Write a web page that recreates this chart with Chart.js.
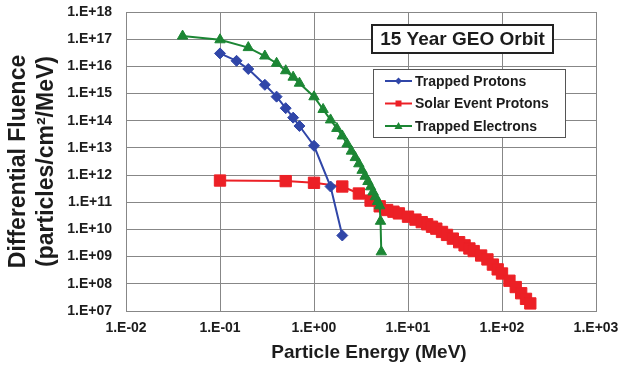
<!DOCTYPE html>
<html>
<head>
<meta charset="utf-8">
<script src="https://cdn.jsdelivr.net/npm/chart.js@4.4.1/dist/chart.umd.min.js"></script>
<style>
  html, body { margin: 0; padding: 0; background: #fff; }
  #wrap { width: 621px; height: 371px; }
</style>
</head>
<body>
<div id="wrap"><canvas id="fluenceChart" width="621" height="371"></canvas></div>
<script>
//======================== data ===================================================
// trapped protons
const protonEnergy = [0.1, 0.15, 0.2, 0.3, 0.4, 0.5, 0.6, 0.7, 1.0, 1.5, 2.0];
const protonFluence = [3.0e16, 1.6e16, 8.0e15, 2.1e15, 7.7e14, 2.9e14, 1.3e14, 6.4e13, 1.2e13, 3.8e11, 6.0e9];
// solar event protons
const solarEnergy = [0.1, 0.5, 1, 2, 3, 4, 5, 6, 7, 8, 10, 12, 14, 16, 18, 20, 23, 26, 30, 35, 40, 45, 50, 60, 70, 80, 90, 100, 120, 140, 160, 180, 200];
const solarFluence = [6.3e11, 6.0e11, 5.2e11, 3.8e11, 2.1e11, 1.15e11, 7.1e10, 5.2e10, 4.5e10, 3.9e10, 2.95e10, 2.3e10, 1.86e10, 1.55e10, 1.26e10, 1.07e10, 8.1e9, 6.3e9, 4.6e9, 3.4e9, 2.6e9, 2.0e9, 1.6e9, 1.1e9, 7.9e8, 5.1e8, 3.4e8, 2.4e8, 1.3e8, 7.6e7, 4.5e7, 2.8e7, 1.9e7];
// trapped electrons
const electronEnergy = [0.04, 0.1, 0.2, 0.3, 0.4, 0.5, 0.6, 0.7, 1.0, 1.25, 1.5, 1.75, 2.0, 2.25, 2.5, 2.75, 3.0, 3.25, 3.5, 3.75, 4.0, 4.25, 4.5, 4.75, 5.0, 5.1, 5.2];
const electronFluence = [1.3e17, 9.5e16, 4.9e16, 2.4e16, 1.3e16, 6.9e15, 4.0e15, 2.4e15, 7.6e14, 2.6e14, 1.07e14, 5.2e13, 2.75e13, 1.4e13, 7.6e12, 4.4e12, 2.6e12, 1.5e12, 9.1e11, 5.8e11, 3.7e11, 2.4e11, 1.6e11, 1.07e11, 7.4e10, 2.0e10, 1.5e9];

// axis ticks
const xTickValues = [1e-2, 1e-1, 1e0, 1e1, 1e2, 1e3];
const xTickLabels = ["1.E-02", "1.E-01", "1.E+00", "1.E+01", "1.E+02", "1.E+03"];
const yTickValues = [1e7, 1e8, 1e9, 1e10, 1e11, 1e12, 1e13, 1e14, 1e15, 1e16, 1e17, 1e18];
const yTickLabels = ["1.E+07", "1.E+08", "1.E+09", "1.E+10", "1.E+11", "1.E+12", "1.E+13", "1.E+14", "1.E+15", "1.E+16", "1.E+17", "1.E+18"];

const seriesNames = ["Trapped Protons", "Solar Event Protons", "Trapped Electrons"];
const chartTitle = "15 Year GEO Orbit";
const xTitle = "Particle Energy (MeV)";
const yTitle = ["Differential Fluence", "(particles/cm\u00B2/MeV)"];

// colours
const blue = "rgb(48, 70, 168)";
const red = "rgb(236, 32, 38)";
const green = "rgb(28, 134, 52)";
const gridColor = "rgb(135, 135, 135)";
const textColor = "#1c1c1c";
const fontFamily = "'Liberation Sans', Arial, Helvetica, sans-serif";

// helper: pair up x/y arrays
function toPoints(xs, ys) {
  return xs.map((x, i) => ({ x: x, y: ys[i] }));
}

//======================== title box, legend box, x title ===============================
const boxesPlugin = {
  id: "boxes",
  afterDraw(chart) {
    const ctx = chart.ctx;
    const area = chart.chartArea;
    ctx.save();

    // x axis title (sits a little right of the plot centre)
    ctx.fillStyle = textColor;
    ctx.font = "bold 19px " + fontFamily;
    ctx.textAlign = "center";
    ctx.textBaseline = "middle";
    ctx.fillText(xTitle, (area.left + area.right) / 2 + 8, area.bottom + 42);

    // title box
    const tx = area.left + 246, ty = area.top + 13, tw = 181, th = 28;
    ctx.fillStyle = "#fff";
    ctx.fillRect(tx, ty, tw, th);
    ctx.strokeStyle = "#222";
    ctx.lineWidth = 2;
    ctx.strokeRect(tx, ty, tw, th);
    ctx.fillStyle = textColor;
    ctx.font = "bold 19px " + fontFamily;
    ctx.fillText(chartTitle, tx + tw / 2, ty + th / 2 + 1);

    // legend box
    const lx = area.left + 247, ly = area.top + 57, lw = 192, lh = 68;
    ctx.fillStyle = "#fff";
    ctx.fillRect(lx, ly, lw, lh);
    ctx.strokeStyle = "#555";
    ctx.lineWidth = 1;
    ctx.strokeRect(lx + 0.5, ly + 0.5, lw, lh);

    ctx.font = "bold 14px " + fontFamily;
    ctx.textAlign = "left";
    chart.data.datasets.forEach((ds, i) => {
      const y = ly + 12 + i * 22.5;
      const x0 = lx + 12;
      ctx.strokeStyle = ds.borderColor;
      ctx.lineWidth = 2;
      ctx.beginPath();
      ctx.moveTo(x0, y);
      ctx.lineTo(x0 + 27, y);
      ctx.stroke();
      ctx.fillStyle = ds.borderColor;
      const cx = x0 + 13.5;
      ctx.beginPath();
      if (ds.pointStyle === "rectRot") {
        ctx.moveTo(cx, y - 3.5); ctx.lineTo(cx + 3.5, y); ctx.lineTo(cx, y + 3.5); ctx.lineTo(cx - 3.5, y);
      } else if (ds.pointStyle === "rect") {
        ctx.rect(cx - 3, y - 3, 6, 6);
      } else {
        ctx.moveTo(cx, y - 4); ctx.lineTo(cx + 4, y + 3); ctx.lineTo(cx - 4, y + 3);
      }
      ctx.closePath();
      ctx.fill();
      ctx.fillStyle = textColor;
      ctx.fillText(ds.label, x0 + 30, y + 1);
    });
    ctx.restore();
  },
};

//======================== chart config ===============================
const data = {
  datasets: [
    {
      label: seriesNames[0],
      data: toPoints(protonEnergy, protonFluence),
      borderColor: blue,
      backgroundColor: blue,
      pointStyle: "rectRot",
      pointRadius: 5.5,
      order: 0,
    },
    {
      label: seriesNames[1],
      data: toPoints(solarEnergy, solarFluence),
      borderColor: red,
      backgroundColor: red,
      pointStyle: "rect",
      pointRadius: 8,
      order: 2,
    },
    {
      label: seriesNames[2],
      data: toPoints(electronEnergy, electronFluence),
      borderColor: green,
      backgroundColor: green,
      pointStyle: "triangle",
      pointRadius: 6,
      order: 1,
    },
  ],
};

const config = {
  type: "line",
  data: data,
  options: {
    responsive: false,
    animation: false,
    devicePixelRatio: 1,
    layout: { padding: { left: 0, right: 25, top: 12, bottom: 0 } },
    elements: {
      line: { borderWidth: 2, tension: 0, fill: false },
      point: { borderWidth: 1, hoverRadius: 6 },
    },
    plugins: {
      legend: { display: false },
      tooltip: { enabled: false },
    },
    scales: {
      x: {
        type: "logarithmic",
        min: 1e-2,
        max: 1e3,
        afterBuildTicks: (scale) => { scale.ticks = xTickValues.map((v) => ({ value: v })); },
        afterFit: (scale) => {
          scale.height = 60;
          scale.paddingLeft = 0; // let layout padding decide the plot edges
          scale.paddingRight = 0;
        },
        ticks: {
          autoSkip: false,
          maxRotation: 0,
          padding: 9,
          color: textColor,
          font: { size: 14, weight: "bold" },
          callback: (value, index) => xTickLabels[index],
        },
        grid: { color: gridColor, lineWidth: 1, drawTicks: false },
        border: { color: gridColor },
        title: { display: false },
      },
      y: {
        type: "logarithmic",
        min: 1e7,
        max: 1e18,
        afterBuildTicks: (scale) => { scale.ticks = yTickValues.map((v) => ({ value: v })); },
        afterFit: (scale) => {
          scale.width = 126;
          scale.paddingTop = 0;
          scale.paddingBottom = 0;
        },
        ticks: {
          autoSkip: false,
          padding: 14,
          color: textColor,
          font: { size: 14, weight: "bold" },
          callback: (value, index) => yTickLabels[index],
        },
        grid: { color: gridColor, lineWidth: 1, drawTicks: false },
        border: { color: gridColor },
        title: {
          display: true,
          text: yTitle,
          color: textColor,
          font: { size: 23, weight: "bold", lineHeight: 1.2 },
          padding: { top: 5, bottom: 0 },
        },
      },
    },
  },
  plugins: [boxesPlugin],
};

Chart.defaults.font.family = fontFamily;
let fluenceChart = new Chart(document.getElementById("fluenceChart"), config);
</script>
</body>
</html>
